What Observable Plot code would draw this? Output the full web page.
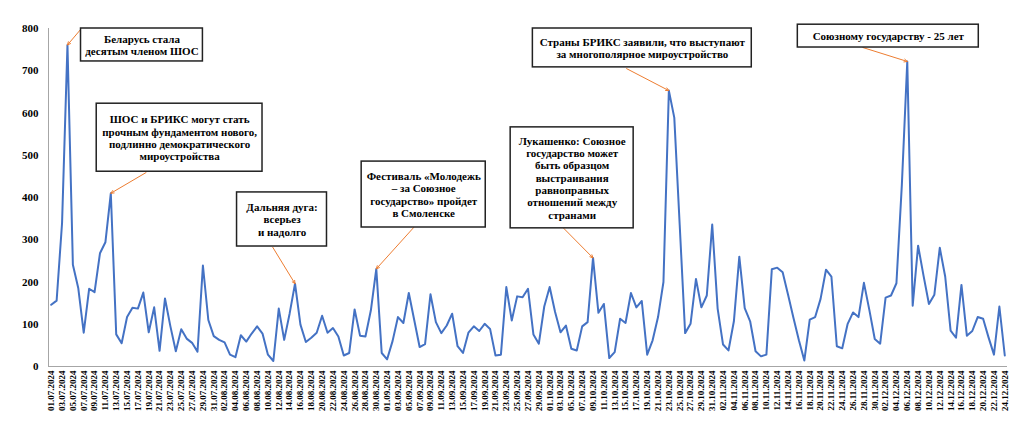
<!DOCTYPE html>
<html>
<head>
<meta charset="utf-8">
<script src="https://cdn.jsdelivr.net/npm/d3@7"></script>
<script src="https://cdn.jsdelivr.net/npm/@observablehq/plot@0.6"></script>
<style>
  html, body { margin: 0; padding: 0; background: white; }
</style>
</head>
<body>
<div id="chart"></div>
<script>
// Daily values, 01.07.2024 – 24.12.2024
const startDate = "2024-07-01";
const values = [
  146,156,339,761,241,185,80,184,176,268,294,410,76,55,117,139,137,175,81,140,
  37,161,95,36,88,66,56,35,239,110,72,63,57,28,22,74,59,78,95,78,
  28,13,137,63,125,196,99,58,68,80,120,80,91,71,26,32,135,73,71,133,
  231,32,17,60,117,103,174,110,46,53,171,105,79,97,125,48,32,80,95,84,
  101,89,26,28,188,109,166,164,184,76,54,142,188,129,81,97,42,38,95,105,
  257,127,148,20,34,113,103,174,140,155,28,62,117,200,653,589,335,79,101,207,
  140,168,336,137,52,38,107,260,138,107,36,24,28,230,234,223,170,115,62,14,
  111,117,160,229,213,48,43,101,128,117,198,134,65,54,163,168,197,430,722,144,
  286,215,148,170,281,213,85,68,193,73,84,117,113,69,28,142,26
];
const yTicks = [0,100,200,300,400,500,600,700,800];

// Annotation texts and the day index they point to
const annotationTexts = [
  "Беларусь стала\nдесятым членом ШОС",
  "ШОС и БРИКС могут стать\nпрочным фундаментом нового,\nподлинно демократического\nмироустройства",
  "Дальняя дуга:\nвсерьез\nи надолго",
  "Фестиваль «Молодежь\n– за Союзное\nгосударство» пройдет\nв Смоленске",
  "Лукашенко: Союзное\nгосударство может\nбыть образцом\nвыстраивания\nравноправных\nотношений между\nстранами",
  "Страны БРИКС заявили, что выступают\nза многополярное мироустройство",
  "Союзному государству - 25 лет"
];
const annotationTargets = [3, 11, 45, 60, 100, 114, 158];

// Layout of the callout boxes (day index / value units)
const boxLayout = [
  {x1: 5.5,  x2: 28.0,  y1: 722, y2: 800, ax: 5.45,  ay: 798},
  {x1: 8.4,  x2: 39.0,  y1: 461, y2: 622, ax: 17.5,  ay: 459},
  {x1: 34.3, x2: 50.9,  y1: 284, y2: 412, ax: 40.9,  ay: 282},
  {x1: 57.3, x2: 80.2,  y1: 329, y2: 485, ax: 66.9,  ay: 329},
  {x1: 84.8, x2: 107.5, y1: 327, y2: 566, ax: 94.6,  ay: 327},
  {x1: 88.9, x2: 129.3, y1: 708, y2: 800, ax: 106.2, ay: 705},
  {x1: 137.8,x2: 171.2, y1: 755, y2: 809, ax: 149.8, ay: 755}
];

const DAY = 864e5;
const t0 = new Date(startDate + "T00:00:00Z").getTime();
const at = i => new Date(t0 + i * DAY);
const data = values.map((v, i) => ({date: at(i), value: v}));
const xTicks = data.filter((d, i) => i % 2 === 0).map(d => d.date);

const annots = annotationTexts.map((text, k) => ({
  text,
  target: annotationTargets[k],
  ...boxLayout[k]
}));

const serif = "'Liberation Serif', 'Times New Roman', serif";

const chart = Plot.plot({
  width: 1024,
  height: 422,
  marginLeft: 48,
  marginRight: 17,
  marginTop: 28,
  marginBottom: 56,
  style: {fontFamily: serif, background: "white", color: "black"},
  x: {type: "utc", domain: [at(-0.5), at(values.length - 0.5)]},
  y: {domain: [0, 800]},
  marks: [
    Plot.axisY({ticks: yTicks, tickSize: 0, tickPadding: 10, fontSize: 11, fontWeight: "bold", fill: "black", label: null, tickFormat: d => String(d)}),
    Plot.axisX({ticks: xTicks, tickFormat: d3.utcFormat("%d.%m.%Y"), tickRotate: -90, tickSize: 0, tickPadding: 4, fontSize: 9, fontWeight: "bold", fill: "black", label: null}),
    Plot.ruleX([at(-0.5)], {stroke: "#a6a6a6", strokeWidth: 1}),
    Plot.ruleY([0], {stroke: "#a6a6a6", strokeWidth: 1}),
    Plot.line(data, {x: "date", y: "value", stroke: "#4472C4", strokeWidth: 2, curve: "linear"}),
    Plot.arrow(annots, {
      x1: d => at(d.ax), y1: d => d.ay,
      x2: d => at(d.target), y2: d => values[d.target],
      stroke: "#ED7D31", strokeWidth: 1, headLength: 5, headAngle: 50
    }),
    Plot.rect(annots, {
      x1: d => at(d.x1), x2: d => at(d.x2), y1: "y1", y2: "y2",
      fill: "white", stroke: "#222", strokeWidth: 1.5
    }),
    Plot.text(annots, {
      x: d => at((d.x1 + d.x2) / 2), y: d => (d.y1 + d.y2) / 2,
      text: "text", fontSize: 11, fontWeight: "bold", lineHeight: 1.12,
      fill: "black", fontFamily: serif
    })
  ]
});

document.getElementById("chart").appendChild(chart);
</script>
</body>
</html>
